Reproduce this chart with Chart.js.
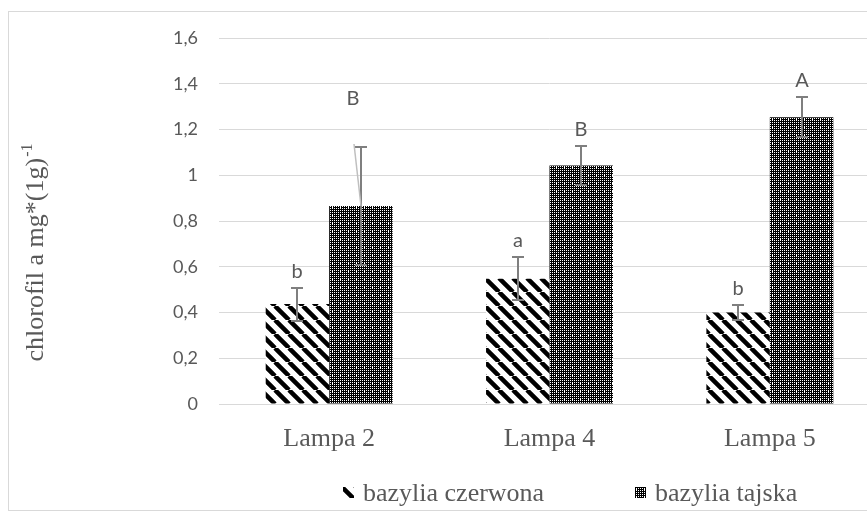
<!DOCTYPE html>
<html>
<head>
<meta charset="utf-8">
<script src="https://cdn.jsdelivr.net/npm/chart.js@4.4.1/dist/chart.umd.min.js"></script>
<style>
  html, body { margin: 0; padding: 0; background: #fff; width: 867px; height: 512px; overflow: hidden; }
  #frame { position: absolute; left: 8px; top: 11px; width: 899px; height: 498px; border: 1px solid #d9d9d9; }
  #chart { position: absolute; left: 0; top: 0; }
</style>
</head>
<body>
<div id="frame"><canvas id="chart" width="899" height="498"></canvas></div>
<script>
// chlorofil a: bazylia czerwona vs bazylia tajska pod trzema lampami
const categories = ["Lampa 2", "Lampa 4", "Lampa 5"];
const seriesNames = ["bazylia czerwona", "bazylia tajska"];

const czerwona = [0.437, 0.548, 0.400];
const czerwonaErr = [0.072, 0.093, 0.033];
const czerwonaLetters = ["b", "a", "b"];

const tajska = [0.866, 1.043, 1.254];
const tajskaErr = [0.257, 0.087, 0.086];
const tajskaLetters = ["B", "B", "A"];

const yTickLabels = ["0", "0,2", "0,4", "0,6", "0,8", "1", "1,2", "1,4", "1,6"];
const yTitle = "chlorofil a mg*(1g)";
const yTitleSup = "-1";

const TEXT = "#595959";
const GRID = "#d9d9d9";
const ERR = "#7f7f7f";
const SERIF = "'Liberation Serif', 'Times New Roman', serif";
const SANS = "Lato, 'Open Sans', sans-serif";

function tile(size) {
  const c = document.createElement("canvas");
  c.width = c.height = size;
  return c;
}

// "\" stripes, black on white
function stripePattern() {
  const s = 14, c = tile(s), g = c.getContext("2d");
  g.fillStyle = "#fff";
  g.fillRect(0, 0, s, s);
  g.strokeStyle = "#000";
  g.lineWidth = 4.5;
  g.beginPath();
  for (const o of [-s, 0, s]) { g.moveTo(o, 0); g.lineTo(o + s, s); }
  g.stroke();
  return g.createPattern(c, "repeat");
}

// dark fine checker with white dots
function dotPattern() {
  const s = 8, c = tile(s), g = c.getContext("2d");
  g.fillStyle = "#fff";
  g.fillRect(0, 0, s, s);
  g.fillStyle = "#000";
  for (let y = 0; y < s; y++)
    for (let x = 0; x < s; x++) {
      const odd = y % 2 === 1;
      if (odd ? !(x === 3 && y === 3) : x % 2 === 0) g.fillRect(x, y, 1, 1);
    }
  return g.createPattern(c, "repeat");
}

const errorBars = {
  id: "errorBars",
  afterDatasetsDraw(chart) {
    const { ctx, scales: { y } } = chart;
    ctx.save();
    chart.data.datasets.forEach((ds, di) => {
      chart.getDatasetMeta(di).data.forEach((bar, i) => {
        const v = ds.data[i], e = ds.errors[i];
        const top = Math.round(y.getPixelForValue(v + e));
        const bot = Math.round(y.getPixelForValue(v - e));
        const x = Math.round(bar.x);
        ctx.strokeStyle = ERR;
        ctx.lineWidth = 2;
        ctx.beginPath();
        ctx.moveTo(x, top); ctx.lineTo(x, bot);
        ctx.moveTo(x - 6, top); ctx.lineTo(x + 6, top);
        ctx.moveTo(x - 6, bot); ctx.lineTo(x + 6, bot);
        ctx.stroke();

        // letter label above the error bar; the Lampa 2 / tajska one was dragged up with a leader line
        const moved = di === 1 && i === 0;
        let lx = x, ly = top - 10;
        if (moved) {
          lx = x - 8;
          ly = top - 42;
          ctx.strokeStyle = "#bfbfbf";
          ctx.lineWidth = 1.5;
          ctx.beginPath();
          ctx.moveTo(x - 7, top - 3);
          ctx.lineTo(x, Math.round(bar.y));
          ctx.stroke();
        }
        ctx.fillStyle = TEXT;
        ctx.font = "20px " + SANS;
        ctx.textAlign = "center";
        ctx.textBaseline = "alphabetic";
        ctx.fillText(ds.letters[i], lx, ly);
      });
    });
    ctx.restore();
  },
};

const yAxisTitle = {
  id: "yAxisTitle",
  afterDraw(chart) {
    const { ctx } = chart;
    ctx.save();
    ctx.translate(34, 241);
    ctx.rotate(-Math.PI / 2);
    ctx.fillStyle = TEXT;
    ctx.textBaseline = "alphabetic";
    ctx.textAlign = "left";
    ctx.font = "26px " + SERIF;
    const w1 = ctx.measureText(yTitle).width;
    ctx.font = "16px " + SERIF;
    const w2 = ctx.measureText(yTitleSup).width;
    const x0 = -(w1 + w2) / 2;
    ctx.font = "26px " + SERIF;
    ctx.fillText(yTitle, x0, 0);
    ctx.font = "16px " + SERIF;
    ctx.fillText(yTitleSup, x0 + w1 + 1, -11);
    ctx.restore();
  },
};

const bottomLegend = {
  id: "bottomLegend",
  afterDraw(chart) {
    const { ctx } = chart;
    const cy = 481;
    const markers = [stripePattern(), dotPattern()];
    const starts = [334, 626];
    ctx.save();
    ctx.font = "26px " + SERIF;
    ctx.textBaseline = "middle";
    ctx.textAlign = "left";
    chart.data.datasets.forEach((ds, di) => {
      const x = starts[di];
      const pat = markers[di];
      pat.setTransform(new DOMMatrix().translate(x - 2, cy - 7));
      ctx.fillStyle = pat;
      ctx.fillRect(x, cy - 6, 11, 11);
      ctx.fillStyle = TEXT;
      ctx.fillText(ds.label, x + 20, cy + 1);
    });
    ctx.restore();
  },
};

new Chart(document.getElementById("chart"), {
  type: "bar",
  data: {
    labels: categories,
    datasets: [
      { label: seriesNames[0], data: czerwona, errors: czerwonaErr, letters: czerwonaLetters,
        backgroundColor: stripePattern(), borderWidth: 0 },
      { label: seriesNames[1], data: tajska, errors: tajskaErr, letters: tajskaLetters,
        backgroundColor: dotPattern(), borderWidth: 0 },
    ],
  },
  options: {
    responsive: false,
    animation: false,
    layout: { padding: { left: 0, top: 26, right: 28, bottom: 56 } },
    datasets: { bar: { categoryPercentage: 0.576, barPercentage: 1.0 } },
    plugins: { legend: { display: false }, tooltip: { enabled: false } },
    scales: {
      x: {
        grid: { display: false },
        border: { display: false },
        ticks: { color: TEXT, font: { family: SERIF, size: 26 }, padding: 12 },
        afterFit: (s) => { s.height = 50; },
      },
      y: {
        min: 0,
        max: 1.6,
        // invisible tick marks push the labels left without adding top padding
        grid: { color: GRID, lineWidth: 1, drawTicks: true, tickLength: 21, tickColor: "rgba(0,0,0,0)" },
        border: { display: false },
        ticks: {
          stepSize: 0.2,
          color: TEXT,
          font: { family: SANS, size: 18 },
          padding: 0,
          callback: (v, i) => yTickLabels[i],
        },
        afterFit: (s) => { s.width = 210; },
      },
    },
  },
  plugins: [errorBars, yAxisTitle, bottomLegend],
});
</script>
</body>
</html>
